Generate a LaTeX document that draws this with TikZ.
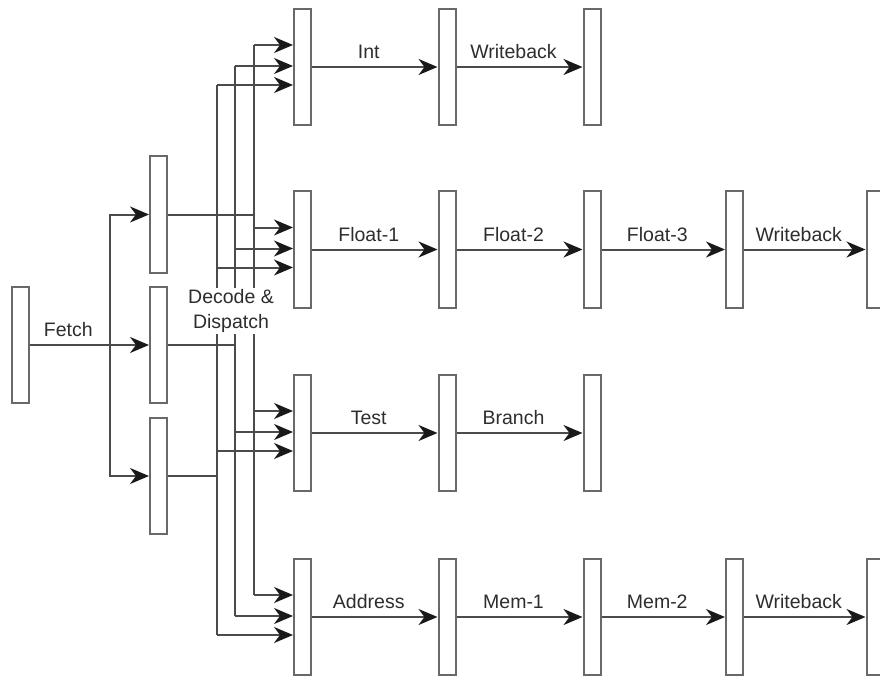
\documentclass[tikz,border=0pt]{standalone}
\usepackage{fontspec}
\setmainfont{Liberation Sans}
\usetikzlibrary{arrows.meta,calc}
\definecolor{ln}{RGB}{75,75,75}
\definecolor{bd}{RGB}{105,105,105}
\definecolor{tx}{RGB}{45,45,45}
\begin{document}
\begin{tikzpicture}[x=1pt,y=-1pt,
  latch/.style={draw=bd,fill=white,line width=2pt,minimum width=17pt,minimum height=116pt,inner sep=0pt},
  wire/.style={draw=ln,line width=2pt},
  arr/.style={wire,-{Stealth[length=19pt,width=16pt,inset=6pt,color=black!90]}},
  lbl/.style={above=6pt,inner sep=1pt,font=\fontsize{19.5}{24}\selectfont,text=tx,xshift=-6pt}]
\useasboundingbox (0,0) rectangle (880,679);
% fetch and decode latches
\node[latch] (F) at (20,345) {};
\node[latch] (D1) at (158.5,214.5) {};
\node[latch] (D2) at (158.5,345) {};
\node[latch] (D3) at (158.5,476) {};
% stage latches
\node[latch] (S11) at (302.5,67) {};
\node[latch] (S12) at (447,67) {};
\node[latch] (S13) at (592,67) {};
\node[latch] (S21) at (302.5,249.5) {};
\node[latch] (S22) at (447,249.5) {};
\node[latch] (S23) at (592,249.5) {};
\node[latch] (S24) at (734.5,249.5) {};
\node[latch] (S25) at (875,249.5) {};
\node[latch] (S31) at (302.5,433) {};
\node[latch] (S32) at (447,433) {};
\node[latch] (S33) at (592,433) {};
\node[latch] (S41) at (302.5,617) {};
\node[latch] (S42) at (447,617) {};
\node[latch] (S43) at (592,617) {};
\node[latch] (S44) at (734.5,617) {};
\node[latch] (S45) at (875,617) {};
% bus x positions
\coordinate (fb) at (110,0);
\coordinate (bA) at (217,0);
\coordinate (bB) at (235,0);
\coordinate (bC) at (254,0);
% fetch
\draw[wire] (F.east) -- node[lbl,xshift=4.5pt]{Fetch} (F.east -| fb);
\draw[arr] (F.east -| fb) -- (D2.west);
\draw[arr] (D2.west -| fb) |- (D1.west);
\draw[arr] (D2.west -| fb) |- (D3.west);
% decode outputs
\draw[wire] (D1.east) -- (D1.east -| bC);
\draw[wire] (D2.east) -- (D2.east -| bB);
\draw[wire] (D3.east) -- (D3.east -| bA);
% buses
\draw[wire] ([yshift=22pt]S11.west -| bC) -- ([yshift=22pt]S41.west -| bC);
\draw[wire] ([yshift=1pt]S11.west -| bB) -- ([yshift=1pt]S41.west -| bB);
\draw[wire] ([yshift=-18pt]S11.west -| bA) -- ([yshift=-18pt]S41.west -| bA);
\foreach \r in {1,2,3,4}{
  \foreach \s/\b in {22/bC,1/bB,-18/bA}{
    \draw[arr] ([yshift=\s pt]S\r1.west -| \b) -- ([yshift=\s pt]S\r1.west);
  }
}
\node[fill=white,align=center,inner sep=1pt,font=\fontsize{19.5}{25}\selectfont,text=tx] (DD) at (231,311) {Decode \&\\Dispatch};
% stage arrows
\draw[arr] (S11.east) -- node[lbl]{Int} (S12.west);
\draw[arr] (S12.east) -- node[lbl]{Writeback} (S13.west);
\draw[arr] (S21.east) -- node[lbl]{Float-1} (S22.west);
\draw[arr] (S22.east) -- node[lbl]{Float-2} (S23.west);
\draw[arr] (S23.east) -- node[lbl]{Float-3} (S24.west);
\draw[arr] (S24.east) -- node[lbl]{Writeback} (S25.west);
\draw[arr] (S31.east) -- node[lbl]{Test} (S32.west);
\draw[arr] (S32.east) -- node[lbl]{Branch} (S33.west);
\draw[arr] (S41.east) -- node[lbl]{Address} (S42.west);
\draw[arr] (S42.east) -- node[lbl]{Mem-1} (S43.west);
\draw[arr] (S43.east) -- node[lbl]{Mem-2} (S44.west);
\draw[arr] (S44.east) -- node[lbl]{Writeback} (S45.west);
\end{tikzpicture}
\end{document}
